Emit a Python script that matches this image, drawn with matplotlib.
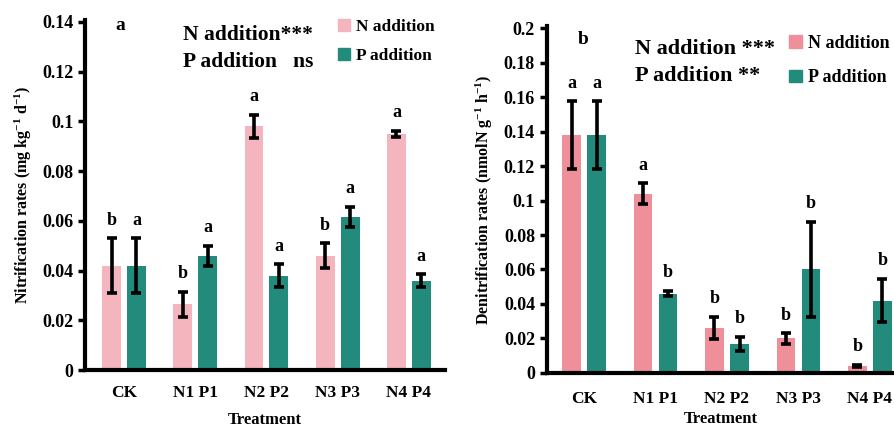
import numpy as np
import matplotlib
matplotlib.use('Agg')
import matplotlib.pyplot as plt
from matplotlib.patches import Patch

plt.rcParams['font.family'] = ['Liberation Serif', 'DejaVu Serif']
plt.rcParams['font.weight'] = 'bold'
plt.rcParams['mathtext.fontset'] = 'custom'
plt.rcParams['mathtext.rm'] = 'Liberation Serif:bold'
plt.rcParams['mathtext.it'] = 'Liberation Serif:bold'
plt.rcParams['mathtext.bf'] = 'Liberation Serif:bold'

treatments = ['CK', 'N1 P1', 'N2 P2', 'N3 P3', 'N4 P4']

# nitrification (panel a)
nit_n = [0.042, 0.0265, 0.098, 0.046, 0.095]
nit_n_err = [0.011, 0.005, 0.0045, 0.005, 0.0013]
nit_p = [0.042, 0.046, 0.038, 0.0615, 0.036]
nit_p_err = [0.011, 0.004, 0.0045, 0.004, 0.0025]
nit_n_letters = ['b', 'b', 'a', 'b', 'a']
nit_p_letters = ['a', 'a', 'a', 'a', 'a']

# denitrification (panel b)
den_n = [0.138, 0.104, 0.026, 0.020, 0.004]
den_n_err = [0.0195, 0.006, 0.0065, 0.003, 0.0005]
den_p = [0.138, 0.046, 0.017, 0.060, 0.042]
den_p_err = [0.0195, 0.0015, 0.004, 0.0275, 0.0125]
den_n_letters = ['a', 'a', 'b', 'b', 'b']
den_p_letters = ['a', 'b', 'b', 'b', 'b']

teal = '#238b7b'

fig = plt.figure(figsize=(8.95, 4.3), dpi=100)


def draw_panel(ax, n_vals, n_err, p_vals, p_err, n_let, p_let, pink, ylim, yticks, yticklabels,
               ylabel, xpad, xlabelpad):
    x = np.arange(len(treatments))
    off, w = 0.175, 0.265
    ekw = dict(ecolor='black', elinewidth=2.6, capsize=3.5, capthick=2.6)
    ax.bar(x - off, n_vals, w, color=pink, yerr=n_err, error_kw=ekw, zorder=2)
    ax.bar(x + off, p_vals, w, color=teal, yerr=p_err, error_kw=ekw, zorder=2)
    for i in range(len(x)):
        ax.annotate(n_let[i], (x[i] - off, n_vals[i] + n_err[i]), xytext=(0, 7),
                    textcoords='offset points', ha='center', va='bottom', fontsize=13, fontweight='bold')
        ax.annotate(p_let[i], (x[i] + off, p_vals[i] + p_err[i]), xytext=(0, 7),
                    textcoords='offset points', ha='center', va='bottom', fontsize=13, fontweight='bold')
    ax.set_ylim(*ylim)
    ax.set_yticks(yticks)
    ax.set_yticklabels(yticklabels)
    ax.set_xticks(x)
    ax.set_xticklabels(treatments)
    ax.tick_params(axis='x', length=0, pad=xpad, labelsize=12.5)
    ax.tick_params(axis='y', length=5, width=2.5, labelsize=13)
    for s in ['top', 'right']:
        ax.spines[s].set_visible(False)
    for s in ['left', 'bottom']:
        ax.spines[s].set_linewidth(3)
    ax.set_xlabel('Treatment', fontsize=12, fontweight='bold', labelpad=xlabelpad)
    ax.set_ylabel(ylabel, fontsize=11.5, fontweight='bold', labelpad=6)


ax1 = fig.add_axes([0.095, 0.1395, 0.402, 0.814])
draw_panel(ax1, nit_n, nit_n_err, nit_p, nit_p_err, nit_n_letters, nit_p_letters,
           '#f5b5bf', (0, 0.1408), np.arange(0, 0.141, 0.02),
           ['0', '0.02', '0.04', '0.06', '0.08', '0.1', '0.12', '0.14'],
           r'Nitrification rates (mg kg$^{-1}$ d$^{-1}$)', 11, 8)
ax1.set_xlim(-0.547, 4.505)

ax2 = fig.add_axes([0.611, 0.1326, 0.389, 0.807])
draw_panel(ax2, den_n, den_n_err, den_p, den_p_err, den_n_letters, den_p_letters,
           '#ef8f99', (0, 0.2012), np.arange(0, 0.201, 0.02),
           ['0', '0.02', '0.04', '0.06', '0.08', '0.1', '0.12', '0.14', '0.16', '0.18', '0.2'],
           r'Denitrification rates (nmolN g$^{-1}$ h$^{-1}$)', 13, 3)
ax2.set_xlim(-0.52, 4.35)

fig.text(120 / 895, 1 - 25 / 430, 'a', fontsize=14, fontweight='bold', ha='center', va='center')
fig.text(583 / 895, 1 - 40 / 430, 'b', fontsize=14, fontweight='bold', ha='center', va='center')

fig.text(183 / 895, 1 - 35 / 430, 'N addition***', fontsize=15.5, fontweight='bold', va='center')
fig.text(183 / 895, 1 - 62 / 430, 'P addition   ns', fontsize=15.5, fontweight='bold', va='center')
fig.text(635 / 895, 1 - 49 / 430, 'N addition ***', fontsize=16, fontweight='bold', va='center')
fig.text(635 / 895, 1 - 76 / 430, 'P addition **', fontsize=16, fontweight='bold', va='center')

leg_kw = dict(frameon=False, handlelength=0.7, handleheight=0.7, handletextpad=0.35,
              borderaxespad=0, borderpad=0)
fig.legend(handles=[Patch(color='#f5b5bf', label='N addition'), Patch(color=teal, label='P addition')],
           loc='upper left', bbox_to_anchor=(338 / 895, 1 - 19 / 430), labelspacing=0.75,
           prop={'weight': 'bold', 'size': 12.5}, **leg_kw)
fig.legend(handles=[Patch(color='#ef8f99', label='N addition'), Patch(color=teal, label='P addition')],
           loc='upper left', bbox_to_anchor=(789 / 895, 1 - 35 / 430), labelspacing=0.95,
           prop={'weight': 'bold', 'size': 13}, **leg_kw)

fig.savefig('out.png', dpi=100)
